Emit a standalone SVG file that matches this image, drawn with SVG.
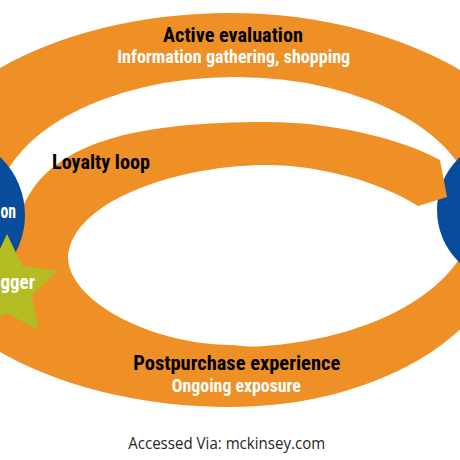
<svg xmlns="http://www.w3.org/2000/svg" width="460" height="460" viewBox="0 0 460 460">
  <style>
    .band { fill: #EF9026; }
    .gap { fill: #FFFFFF; }
    .blue { fill: #0A4C9C; }
    .star { fill: #B3BC22; }
    .head { font-family: "Liberation Sans Narrow", "Arial Narrow", "Roboto Condensed", "Liberation Sans", sans-serif; font-weight: bold; fill: #000000; }
    .sub { font-family: "Liberation Sans Narrow", "Arial Narrow", "Roboto Condensed", "Liberation Sans", sans-serif; font-weight: bold; fill: #FFFFFF; }
    .credit { font-family: "Open Sans", "Noto Sans", "Liberation Sans", sans-serif; fill: #262626; }
  </style>
  <rect x="0" y="0" width="460" height="460" fill="#FFFFFF"/>

  <g id="connectors">
    <!-- outer ring: active evaluation (top) and postpurchase experience (bottom) -->
    <path id="outer-ring" class="band" d="M 230,13 A 337 212 0 0 1 567,225 L 511,225 A 281 182 0 0 1 230,407 A 332 197 0 0 1 -102,210 A 332 197 0 0 1 230,13 Z"/>
    <ellipse id="ring-inner" class="gap" cx="235" cy="212" rx="239" ry="135"/>
  </g>

  <g id="node-purchase">
    <circle class="blue" cx="510" cy="210" r="73"/>
  </g>

  <g id="loyalty-loop">
    <path class="band" d="M 20,215 C 45,140 140,122 267,122 C 330,122 400,138 440,160 L 447,197 L 418,206 C 380,182 320,165 267,165 C 180,165 72,200 68,257 C 68,300 150,345 233,345 L 300,352 L 300,380 L 0,340 L -20,240 Z"/>
  </g>

  <g id="node-consideration">
    <circle class="blue" cx="-55" cy="215" r="80"/>
    <text class="sub" x="0.5" y="218" font-size="20" textLength="15.5" lengthAdjust="spacingAndGlyphs">on</text>
  </g>

  <g id="node-trigger">
    <polygon class="star" points="7,234 22.3,266 57.4,270.6 31.7,295 38.2,329.9 7,313 -24.2,329.9 -17.7,295 -43.4,270.6 -8.3,266"/>
    <text class="sub" x="0.5" y="289" font-size="21" textLength="34.5" lengthAdjust="spacingAndGlyphs">gger</text>
  </g>

  <g id="label-active">
    <text class="head" x="233" y="42" font-size="20" text-anchor="middle" textLength="140" lengthAdjust="spacingAndGlyphs">Active evaluation</text>
    <text class="sub" x="233.7" y="63" font-size="18" text-anchor="middle" textLength="233" lengthAdjust="spacingAndGlyphs">Information gathering, shopping</text>
  </g>

  <g id="label-loyalty">
    <text class="head" x="52" y="169" font-size="21" textLength="98" lengthAdjust="spacingAndGlyphs">Loyalty loop</text>
  </g>

  <g id="label-postpurchase">
    <text class="head" x="236.7" y="370" font-size="20" text-anchor="middle" textLength="207" lengthAdjust="spacingAndGlyphs">Postpurchase experience</text>
    <text class="sub" x="236.3" y="392" font-size="18.5" text-anchor="middle" textLength="129" lengthAdjust="spacingAndGlyphs">Ongoing exposure</text>
  </g>

  <g id="credit">
    <text class="credit" x="226.7" y="449" font-size="15.5" text-anchor="middle" textLength="197" lengthAdjust="spacingAndGlyphs">Accessed Via: mckinsey.com</text>
  </g>
</svg>
